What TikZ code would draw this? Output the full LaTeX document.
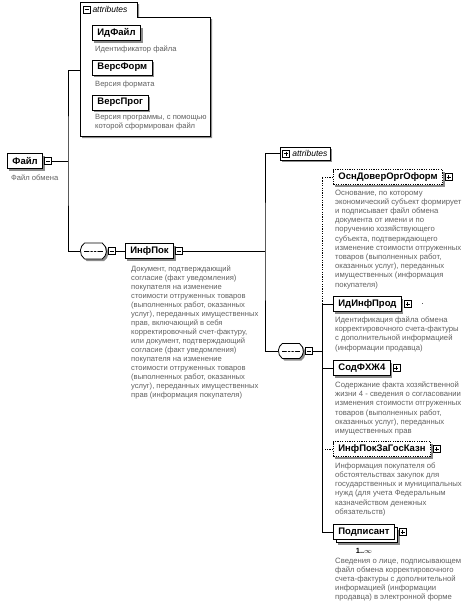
\documentclass[tikz,border=0pt]{standalone}
\usepackage{fontspec}
\setmainfont{Liberation Sans}
\usetikzlibrary{positioning,shadows,shapes.misc}

\begin{document}
\begin{tikzpicture}[x=1pt,y=-1pt,
  conn/.style={line width=0.8pt},
  optconn/.style={conn, dash pattern=on 1.2pt off 1.2pt},
  elembase/.style={draw=black, fill=white, line width=0.8pt, font=\bfseries\fontsize{9.5}{11}\selectfont, inner xsep=5pt, inner ysep=0pt, minimum height=15pt, anchor=west},
  elem/.style={elembase, preaction={fill=black!45, transform canvas={shift={(2pt,-2pt)}}}},
  optelem/.style={elem, dash pattern=on 1.2pt off 1.2pt},
  multelem/.style={elembase, preaction={fill=black!45, transform canvas={shift={(5pt,-5pt)}}}, preaction={draw=black, fill=white, transform canvas={shift={(3pt,-3pt)}}}},
  descr/.style={anchor=north west, align=left, inner sep=0pt, text=black!62, font=\fontsize{7.6}{9}\selectfont},
  rdescr/.style={descr, font=\fontsize{7.7}{9.2}\selectfont},
  pmbox/.style={draw=black, fill=white, line width=0.6pt, minimum size=7pt, inner sep=0pt},
  pmminus/.style={pmbox, path picture={\draw[line width=0.6pt] ([xshift=1.5pt]path picture bounding box.west) -- ([xshift=-1.5pt]path picture bounding box.east);}},
  pmplus/.style={pmbox, path picture={\draw[line width=0.6pt] ([xshift=1.5pt]path picture bounding box.west) -- ([xshift=-1.5pt]path picture bounding box.east); \draw[line width=0.6pt] ([yshift=-1.5pt]path picture bounding box.north) -- ([yshift=1.5pt]path picture bounding box.south);}},
  seqbox/.style={draw=black, fill=white, line width=0.8pt, rounded rectangle, rounded rectangle arc length=110, minimum width=26pt, minimum height=16pt, inner sep=0pt, anchor=west, preaction={fill=black!45, transform canvas={shift={(2pt,-2pt)}}}, path picture={\draw[line width=0.6pt] ([xshift=4pt]path picture bounding box.west) -- ([xshift=-4pt]path picture bounding box.east); \foreach \d in {-3.5,0,3.5} \fill ([xshift=\d pt]path picture bounding box.center) circle (1pt);}},
  attrlbl/.style={font=\itshape\fontsize{8.5}{9}\selectfont, inner sep=0pt, anchor=west},
]
\useasboundingbox (0,0) rectangle (465,605);

\draw[conn, fill=white, preaction={fill=black!45, transform canvas={shift={(2pt,-2pt)}}}] (80,136) -- (80,2) -- (137,2) -- (137,17) -- (210,17) -- (210,136) -- cycle;
\node[pmminus] (attrAmin) at (86.5,9.5) {};
\node[attrlbl, right=2pt of attrAmin] (attrAlbl) {attributes};
\coordinate (attrA) at (80,70);

\node[elem] (idfajl) at (92,33) {ИдФайл};
\node[descr] (idfajld) at (95,46) {Идентификатор файла};
\node[elem] (versform) at (92,67.5) {ВерсФорм};
\node[descr] (versformd) at (95,80.5) {Версия формата};
\node[elem] (versprog) at (92,102.5) {ВерсПрог};
\node[descr] (versprogd) at (95,114.5) {Версия программы, с помощью\\которой сформирован файл};

\node[elem] (fajl) at (7,161) {Файл};
\node[pmminus, right=1pt of fajl] (fajlpm) {};
\node[descr] (fajld) at (11,174.5) {Файл обмена};
\coordinate (busA) at (68,161);
\draw[conn] (fajlpm.east) -- (busA);
\draw[conn] (attrA) -| (busA) |- (80,251) coordinate (seqAin);

\node[seqbox] (seqA) at (seqAin) {};
\node[pmminus, right=1pt of seqA] (seqApm) {};
\node[elem] (infpok) at (125,251) {ИнфПок};
\node[pmminus, right=1pt of infpok] (infpokpm) {};
\draw[conn] (seqApm.east) -- (infpok.west);
\node[descr] (infpokd) at (131,265.5) {Документ, подтверждающий\\согласие (факт уведомления)\\покупателя на изменение\\стоимости отгруженных товаров\\(выполненных работ, оказанных\\услуг), переданных имущественных\\прав, включающий в себя\\корректировочный счет-фактуру,\\или документ, подтверждающий\\согласие (факт уведомления)\\покупателя на изменение\\стоимости отгруженных товаров\\(выполненных работ, оказанных\\услуг), переданных имущественных\\прав (информация покупателя)};

\coordinate (busB) at (265,251);
\draw[conn] (infpokpm.east) -- (busB);
\node[elem, font=\itshape\fontsize{8.5}{9}\selectfont, minimum height=13pt, inner xsep=3pt] (attrB) at (280,153.5) {\hspace{9pt}attributes};
\node[pmplus, right=2pt of attrB.west] (attrBpm) {};
\draw[conn] (attrB.west) -| (busB) |- (278,351) coordinate (seqBin);

\node[seqbox, minimum width=25pt, minimum height=15pt] (seqB) at (seqBin) {};
\node[pmminus, right=1pt of seqB] (seqBpm) {};
\coordinate (busC) at (322,351);
\draw[conn] (seqBpm.east) -- (busC);

\node[optelem] (osn) at (333,177) {ОснДоверОргОформ};
\node[pmplus, right=2pt of osn] (osnpm) {};
\node[rdescr] (osnd) at (335,189.5) {Основание, по которому\\экономический субъект формирует\\и подписывает файл обмена\\документа от имени и по\\поручению хозяйствующего\\субъекта, подтверждающего\\изменение стоимости отгруженных\\товаров (выполненных работ,\\оказанных услуг), переданных\\имущественных (информация\\покупателя)};

\node[elem] (idinf) at (333,304) {ИдИнфПрод};
\node[pmplus, right=2pt of idinf] (idinfpm) {};
\node[font=\fontsize{8}{9}\selectfont, inner sep=0pt, right=10pt of idinfpm] (idinfdot) {.};
\node[rdescr] (idinfd) at (335,316.5) {Идентификация файла обмена\\корректировочного счета-фактуры\\с дополнительной информацией\\(информации продавца)};

\node[elem] (sod) at (333,368) {СодФХЖ4};
\node[pmplus, right=2pt of sod] (sodpm) {};
\node[rdescr] (sodd) at (335,381.5) {Содержание факта хозяйственной\\жизни 4 - сведения о согласовании\\изменения стоимости отгруженных\\товаров (выполненных работ,\\оказанных услуг), переданных\\имущественных прав};

\node[optelem] (gos) at (333,449) {ИнфПокЗаГосКазн};
\node[pmplus, right=2pt of gos] (gospm) {};
\node[rdescr] (gosd) at (335,462.5) {Информация покупателя об\\обстоятельствах закупок для\\государственных и муниципальных\\нужд (для учета Федеральным\\казначейством денежных\\обязательств)};

\node[multelem] (podp) at (333,532) {Подписант};
\node[pmplus, right=4pt of podp] (podppm) {};
\node[font=\bfseries\fontsize{7.5}{8}\selectfont, inner sep=0pt, below=8pt of podp] (podpmult) {1..$\infty$};
\node[rdescr] (podpd) at (335,557.5) {Сведения о лице, подписывающем\\файл обмена корректировочного\\счета-фактуры с дополнительной\\информацией (информации\\продавца) в электронной форме};

\draw[optconn] (osn.west) -| (idinf.west -| busC);
\draw[conn] (idinf.west) -- (idinf.west -| busC) -- (podp.west -| busC) -- (podp.west);
\draw[conn] (sod.west) -- (sod.west -| busC);
\draw[optconn] (gos.west) -- (gos.west -| busC);
\end{tikzpicture}
\end{document}
